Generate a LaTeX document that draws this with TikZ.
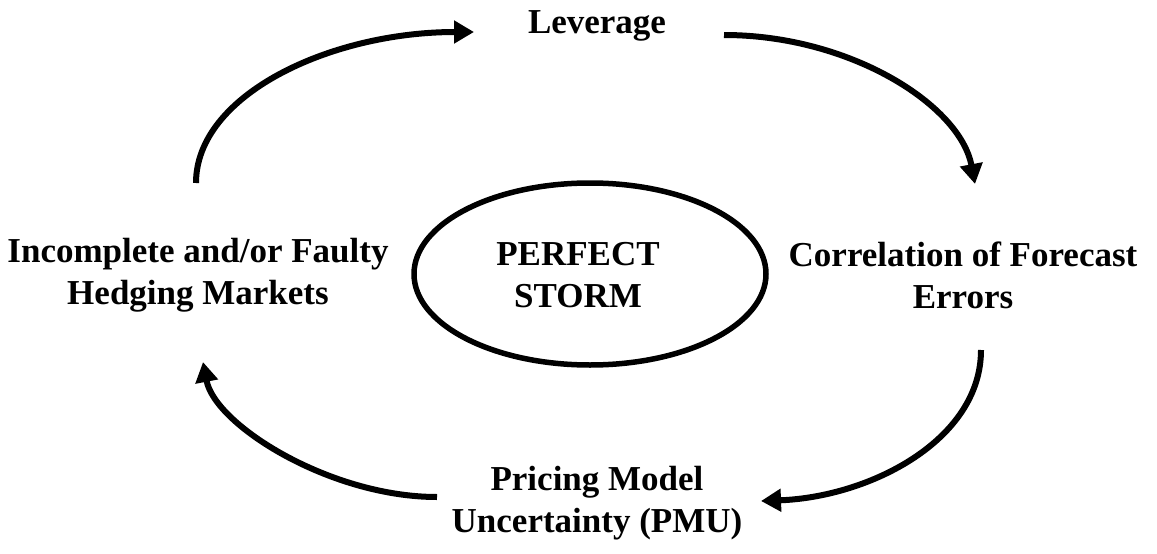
\documentclass[tikz,border=0pt]{standalone}
\usepackage{fontspec}
\setmainfont{Liberation Serif}
\usetikzlibrary{arrows.meta,shapes.geometric}
\begin{document}
\begin{tikzpicture}[x=1pt,y=-1pt,
  lbl/.style={font=\fontsize{35}{42}\selectfont\bfseries, align=center, inner sep=0pt},
  loop/.style={line width=6pt, -{Triangle[length=20pt,width=22pt]}},
  core/.style={ellipse, draw, line width=5.5pt, minimum width=352pt, minimum height=182pt, inner sep=0pt}]
\useasboundingbox (0,0) rectangle (1157,554);
\node[lbl] (lev) at (597,26) {Leverage};
\node[lbl] (hedge) at (198,275) {Incomplete and/or Faulty\\Hedging Markets};
\node[core] (storm) at (590,274) {};
\node[lbl] (stormtxt) at (578,275) {PERFECT\\STORM};
\node[lbl] (corr) at (963,275) {Correlation of Forecast\\Errors};
\node[lbl] (pmu) at (597,503) {Pricing Model\\Uncertainty (PMU)};
\coordinate (a1) at (196,183);
\coordinate (b1) at (474,32);
\coordinate (a2) at (724,35);
\coordinate (b2) at (975,184);
\coordinate (a3) at (981,350);
\coordinate (b3) at (761,501);
\coordinate (a4) at (437,497);
\coordinate (b4) at (203,362);
\draw[loop] (a1) .. controls (196,95) and (330,32) .. (b1);
\draw[loop] (a2) .. controls (850,35) and (960,105) .. (b2);
\draw[loop] (a3) .. controls (981,440) and (870,497) .. (b3);
\draw[loop] (a4) .. controls (330,497) and (215,425) .. (b4);
\end{tikzpicture}
\end{document}
